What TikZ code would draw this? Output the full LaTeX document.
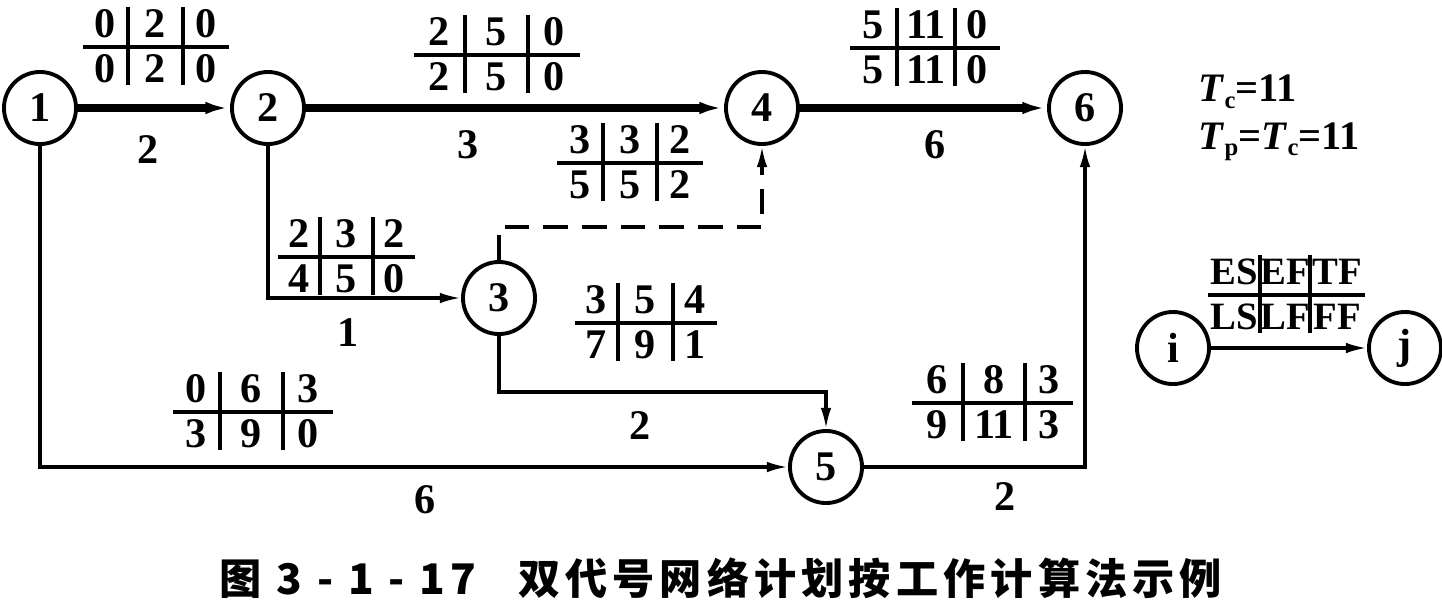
\documentclass[tikz,border=0pt]{standalone}
\usepackage{fontspec}
\setmainfont{Liberation Serif}
\newfontfamily\cjk[LetterSpace=12]{Noto Sans CJK SC}
\usepackage{tikz}
\usetikzlibrary{arrows.meta,positioning}

\tikzset{
  event/.style={circle, draw, line width=1.1pt, minimum size=0.72cm, inner sep=0pt, font=\fontsize{12}{13}\selectfont\bfseries},
  arr/.style={line width=0.9pt, -{Latex[length=6pt,width=3pt]}},
  crit/.style={line width=2pt, -{Latex[length=7pt,width=3.5pt]}},
  tabline/.style={line width=0.9pt},
  cell/.style={inner sep=0pt, font=\fontsize{12}{13}\selectfont\bfseries},
  dur/.style={inner sep=0pt, font=\fontsize{12}{13}\selectfont\bfseries}
}

% time table of one work: name, left, 1st bar, 2nd bar, right, y of rule, top row, bottom row
\newcommand{\worktab}[8]{%
  \draw[tabline] (#2,#6) -- (#5,#6);
  \draw[tabline] (#3,#6-40) -- (#3,#6+38) (#4,#6-40) -- (#4,#6+38);
  \foreach \ra/\rb/\rc [count=\k] in {#7,#8}{
    \pgfmathsetmacro\ry{#6+45*\k-68}
    \node[cell] (#1-\k a) at ({(#2+#3)/2},\ry) {\ra};
    \node[cell] (#1-\k b) at ({(#3+#4)/2},\ry) {\rb};
    \node[cell] (#1-\k c) at ({(#4+#5)/2},\ry) {\rc};
  }
}

\begin{document}
\begin{tikzpicture}[x=0.01cm, y=-0.01cm]
  \useasboundingbox (0,0) rectangle (1442,608);
  % events
  \node[event] (n1) at (40,108) {1};
  \node[event] (n2) at (268,108) {2};
  \node[event] (n3) at (499,298) {3};
  \node[event] (n4) at (762,108) {4};
  \node[event] (n5) at (826,467) {5};
  \node[event] (n6) at (1085,108) {6};
  \node[event] (ni) at (1173,348) {i};
  \node[event] (nj) at (1405,348) {j};

  % critical path
  \draw[crit] (n1) -- (n2);
  \draw[crit] (n2) -- (n4);
  \draw[crit] (n4) -- (n6);
  % other works
  \coordinate (c34) at (630,227);
  \coordinate (c35) at (660,392);
  \draw[arr] (n2) |- (n3);
  \draw[arr, dashed, dash pattern=on 7pt off 4pt] (n3) |- (c34) -| (n4);
  \draw[arr] (n3) |- (c35) -| (n5);
  \draw[arr] (n1) |- (n5);
  \draw[arr] (n5) -| (n6);
  \draw[arr] (ni) -- (nj);

  % durations
  \node[dur] (d12) at (148,150) {2};
  \node[dur] (d24) at (468,145) {3};
  \node[dur] (d46) at (935,145) {6};
  \node[dur] (d23) at (348,333) {1};
  \node[dur] (d35) at (640,426) {2};
  \node[dur] (d15) at (425,500) {6};
  \node[dur] (d56) at (1005,497) {2};

  % time parameters
  \worktab{t12}{83}{128}{183}{229}{47}{0/2/0}{0/2/0}
  \worktab{t24}{414}{465}{528}{580}{55}{2/5/0}{2/5/0}
  \worktab{t46}{850}{897}{955}{1000}{48}{5/11/0}{5/11/0}
  \worktab{t34}{557}{603}{657}{703}{163}{3/3/2}{5/5/2}
  \worktab{t23}{278}{320}{373}{415}{257}{2/3/2}{4/5/0}
  \worktab{t35}{575}{618}{673}{717}{323}{3/5/4}{7/9/1}
  \worktab{t15}{173}{220}{283}{333}{412}{0/6/3}{3/9/0}
  \worktab{t56}{912}{963}{1025}{1073}{403}{6/8/3}{9/11/3}
  \begin{scope}[cell/.append style={font=\fontsize{11}{12}\selectfont\bfseries}]
    \worktab{tij}{1208}{1260}{1310}{1365}{295}{ES/EF/TF}{LS/LF/FF}
  \end{scope}

  % computed and planned duration
  \node[anchor=west, align=left, inner sep=0pt, font=\fontsize{11.5}{13.5}\selectfont\bfseries] (tc) at (1198,118)
    {\textit{T}\raisebox{-0.35ex}{\scriptsize c}=11\\
     \textit{T}\raisebox{-0.35ex}{\scriptsize p}=\textit{T}\raisebox{-0.35ex}{\scriptsize c}=11};

  % caption
  \node[inner sep=0pt, font=\cjk\fontsize{12}{14}\selectfont\bfseries] (cap) at (721,578)
    {图 3 - 1 - 17\quad 双代号网络计划按工作计算法示例};
\end{tikzpicture}
\end{document}
